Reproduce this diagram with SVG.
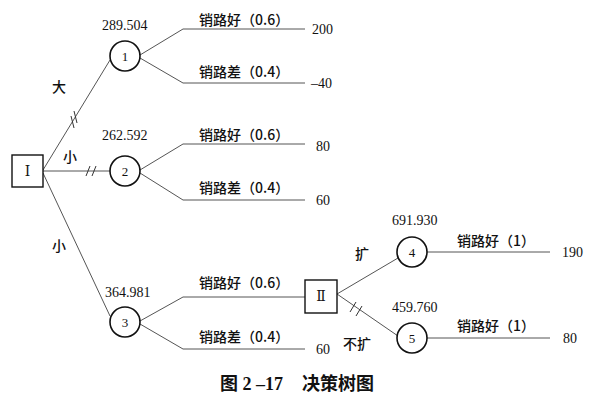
<svg xmlns="http://www.w3.org/2000/svg" width="590" height="402" viewBox="0 0 590 402">
<style>
.ln{stroke:#555;stroke-width:1;fill:none}
.tk{stroke:#333;stroke-width:1;fill:none}
.cn{fill:#fff;stroke:#111;stroke-width:1.6}
.bx{fill:#fff;stroke:#111;stroke-width:1.4}
.num{font-family:"Liberation Serif","Times New Roman",serif;font-size:14px;fill:#111}
.cnum{font-family:"Liberation Serif","Times New Roman",serif;font-size:13px;fill:#111}
.cj{font-family:"Noto Sans CJK SC",sans-serif;font-size:14px;font-weight:500;fill:#111}
.rn{font-family:"Liberation Serif","DejaVu Serif","Noto Sans CJK SC",serif;font-size:14px;fill:#111}
.cap{font-family:"Liberation Serif","Noto Sans CJK SC",serif;font-size:18px;font-weight:bold;fill:#111}
</style>
<g id="connectors">
<path class="ln" d="M43,170 L110,60"/>
<path class="ln" d="M43,171 L110,171"/>
<path class="ln" d="M43,173 L110,316"/>
<path class="ln" d="M140,55 L183,29 L305,29"/>
<path class="ln" d="M140,58 L183,83 L305,83"/>
<path class="ln" d="M140,170 L183,144 L305,144"/>
<path class="ln" d="M140,173 L183,200 L305,200"/>
<path class="ln" d="M140,321 L183,297 L305,297"/>
<path class="ln" d="M140,324 L183,349 L305,349"/>
<path class="ln" d="M337,294 L398,258"/>
<path class="ln" d="M337,294 L398,336"/>
<path class="ln" d="M427,252 L550,252"/>
<path class="ln" d="M427,338 L550,338"/>
<path class="tk" d="M71,116 L74,128 M74,111 L77,123"/>
<path class="tk" d="M86,176 L90,166 M92,176 L96,166"/>
<path class="tk" d="M350,312 L356,302 M356,316 L362,306"/>
</g>
<g id="nodeI">
<rect class="bx" x="12" y="155" width="31" height="32"/>
<text class="rn" x="27.5" y="176" text-anchor="middle">Ⅰ</text>
</g>
<g id="node1">
<circle class="cn" cx="125" cy="56" r="15"/>
<text class="cnum" x="125" y="61" text-anchor="middle">1</text>
<text class="num" x="102" y="30">289.504</text>
</g>
<g id="node2">
<circle class="cn" cx="125" cy="171" r="15"/>
<text class="cnum" x="125" y="176" text-anchor="middle">2</text>
<text class="num" x="102" y="140">262.592</text>
</g>
<g id="node3">
<circle class="cn" cx="125" cy="322" r="15"/>
<text class="cnum" x="125" y="327" text-anchor="middle">3</text>
<text class="num" x="105" y="297">364.981</text>
</g>
<g id="nodeII">
<rect class="bx" x="305" y="280" width="32" height="33"/>
<text class="rn" x="321" y="301" text-anchor="middle">Ⅱ</text>
</g>
<g id="node4">
<circle class="cn" cx="412" cy="252" r="15"/>
<text class="cnum" x="412" y="257" text-anchor="middle">4</text>
<text class="num" x="392" y="225">691.930</text>
</g>
<g id="node5">
<circle class="cn" cx="412" cy="338" r="15"/>
<text class="cnum" x="412" y="343" text-anchor="middle">5</text>
<text class="num" x="392" y="312">459.760</text>
</g>
<g id="labels">
<text class="cj" x="52" y="92">大</text>
<text class="cj" x="63" y="162">小</text>
<text class="cj" x="52" y="251">小</text>
<text class="cj" x="355" y="259">扩</text>
<text class="cj" x="343" y="349">不扩</text>
<text class="cj" x="199" y="25">销路好（0.6）</text>
<text class="cj" x="199" y="77">销路差（0.4）</text>
<text class="cj" x="199" y="140">销路好（0.6）</text>
<text class="cj" x="199" y="193">销路差（0.4）</text>
<text class="cj" x="199" y="288">销路好（0.6）</text>
<text class="cj" x="199" y="342">销路差（0.4）</text>
<text class="cj" x="457" y="246">销路好（1）</text>
<text class="cj" x="457" y="331">销路好（1）</text>
<text class="num" x="312" y="34">200</text>
<text class="num" x="311" y="88">–40</text>
<text class="num" x="316" y="151">80</text>
<text class="num" x="316" y="205">60</text>
<text class="num" x="316" y="354">60</text>
<text class="num" x="562" y="257">190</text>
<text class="num" x="563" y="343">80</text>
</g>
<g id="caption">
<text class="cap" x="220" y="390">图 2 –17</text>
<text class="cap" x="302" y="390">决策树图</text>
</g>
</svg>
